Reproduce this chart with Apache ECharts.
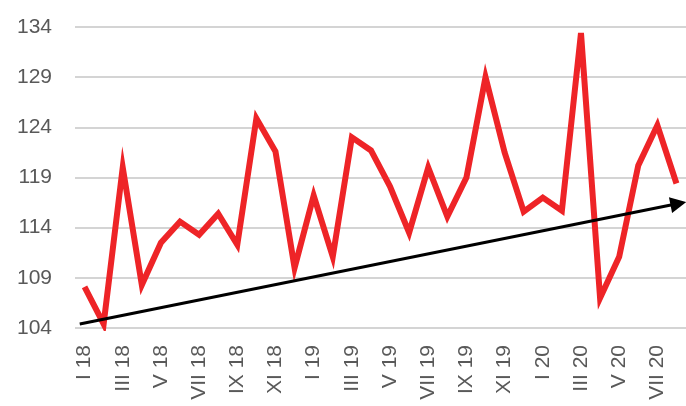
<!DOCTYPE html>
<html>
<head>
<meta charset="utf-8">
<script src="https://cdn.jsdelivr.net/npm/echarts@6/dist/echarts.min.js"></script>
<style>
html,body{margin:0;padding:0;background:#fff;}
#chart{width:686px;height:406px;}
</style>
</head>
<body>
<div id="chart"></div>
<script>
var categories = ['I 18','II 18','III 18','IV 18','V 18','VI 18','VII 18','VIII 18','IX 18','X 18','XI 18','XII 18',
  'I 19','II 19','III 19','IV 19','V 19','VI 19','VII 19','VIII 19','IX 19','X 19','XI 19','XII 19',
  'I 20','II 20','III 20','IV 20','V 20','VI 20','VII 20','VIII 20'];
var values = [108.1,104.4,120.0,108.3,112.5,114.6,113.3,115.4,112.3,124.9,121.6,110.0,
  117.2,111.1,123.0,121.7,118.1,113.5,120.0,115.1,119.0,129.0,121.5,115.6,
  117.0,115.7,133.4,107.0,111.1,120.2,124.2,118.4];
var yTicks = [104,109,114,119,124,129,134];
var trendStart = [-0.25, 104.4];
var trendEnd = [31.1, 116.4];

var chart = echarts.init(document.getElementById('chart'), null, {renderer:'canvas'});
chart.setOption({
  animation:false,
  backgroundColor:'#ffffff',
  grid:{left:75, top:27, width:614, bottom:78, containLabel:false},
  xAxis:[{
    type:'category', data:categories, boundaryGap:true,
    axisLine:{show:false}, axisTick:{show:false},
    axisLabel:{interval:1, rotate:90, margin:17, color:'#595959', fontSize:21, fontFamily:'Liberation Sans, Arial, sans-serif'},
    splitLine:{show:false}
  },{
    type:'value', min:-0.5, max:31.5, show:false
  }],
  yAxis:{
    type:'value', min:yTicks[0], max:yTicks[yTicks.length-1], interval:5,
    axisLine:{show:false}, axisTick:{show:false},
    axisLabel:{margin:23, color:'#595959', fontSize:21, fontFamily:'Liberation Sans, Arial, sans-serif'},
    splitLine:{show:true, lineStyle:{color:'#d4d4d4', width:2}}
  },
  series:[{
    type:'line', xAxisIndex:1, data:[], z:1,
    markLine:{
      silent:true, symbol:['none','triangle'], symbolSize:[16,16],
      label:{show:false},
      lineStyle:{color:'#000000', width:3, type:'solid'},
      data:[[{coord:trendStart},{coord:trendEnd}]]
    }
  },{
    type:'line', data:values, z:3, symbol:'none', smooth:false,
    lineStyle:{color:'#ee2427', width:6, join:'miter'}
  }]
});
</script>
</body>
</html>
